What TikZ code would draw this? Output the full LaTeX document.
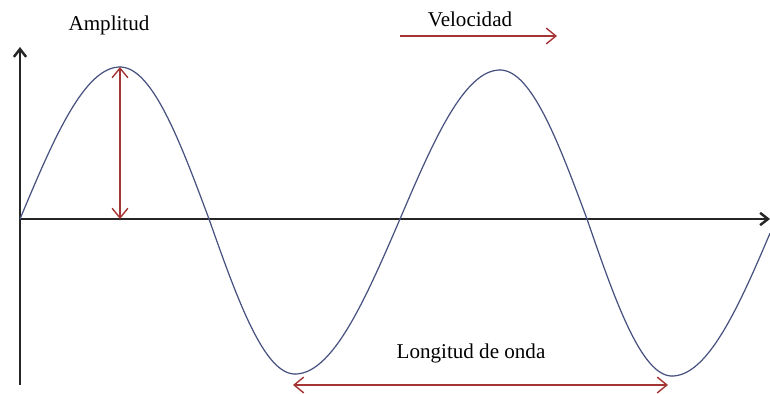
\documentclass[tikz,border=0pt]{standalone}
\usepackage{fontspec}
\setmainfont{Liberation Serif}
\usepackage{tikz}
\usetikzlibrary{arrows.meta,positioning,calc}
\definecolor{wavegray}{RGB}{72,82,128}
\definecolor{arrowred}{RGB}{165,52,52}

\tikzset{
  axisline/.style={line width=1.4pt,black!85,-{Straight Barb[length=4.5pt,width=7pt]}},
  measure/.style={line width=0.8pt,arrowred,{Straight Barb[length=5.5pt,width=9pt]}-{Straight Barb[length=5.5pt,width=9pt]}},
  label/.style={font=\fontsize{12}{14}\selectfont,inner sep=1pt}
}

\begin{document}
\begin{tikzpicture}[x=0.02cm,y=-0.02cm]
        \useasboundingbox (0,0) rectangle (770,393);

        % axes
        \coordinate (o) at (20,219);
        \coordinate (ybot) at (20,385);
        \coordinate (ytip) at (20,47);
        \coordinate (xtip) at (770,219);
        \draw[axisline] (ybot) -- (ytip);
        \draw[axisline] (o) -- (xtip);

        % the wave, one quarter at a time
        \foreach \xa/\xb/\amp/\ph/\tmax in {20/120/-152/0/1, 120/209/-152/90/1,
            209/295/155/0/1, 295/400/155/90/1, 400/500/-149/0/1,
            500/587/-149/90/1, 587/672/157/0/1, 672/776/157/90/0.942}
          \draw[wavegray,line width=0.7pt,line cap=round,smooth,samples=40,domain=0:\tmax]
            plot ({\xa+\x*(\xb-\xa)},{219+\amp*sin(\ph+90*\x)});

        % amplitude
        \coordinate (crest) at (120,67);
        \coordinate (crestfoot) at (120,219);
        \draw[measure] (crestfoot) -- (crest);
        \node[label] (amp) at (109,25) {Amplitud};

        % speed
        \coordinate (vstart) at (400,36);
        \coordinate (vend) at (557,36);
        \draw[line width=0.8pt,arrowred,-{Straight Barb[length=5.5pt,width=9pt]}] (vstart) -- (vend);
        \node[label] (vel) at (470,19) {Velocidad};

        % wavelength
        \coordinate (troughA) at (293,385);
        \coordinate (troughB) at (668,385);
        \draw[measure] (troughA) -- (troughB);
        \node[label] (lambda) at (471,353) {Longitud de onda};
      \end{tikzpicture}
\end{document}
